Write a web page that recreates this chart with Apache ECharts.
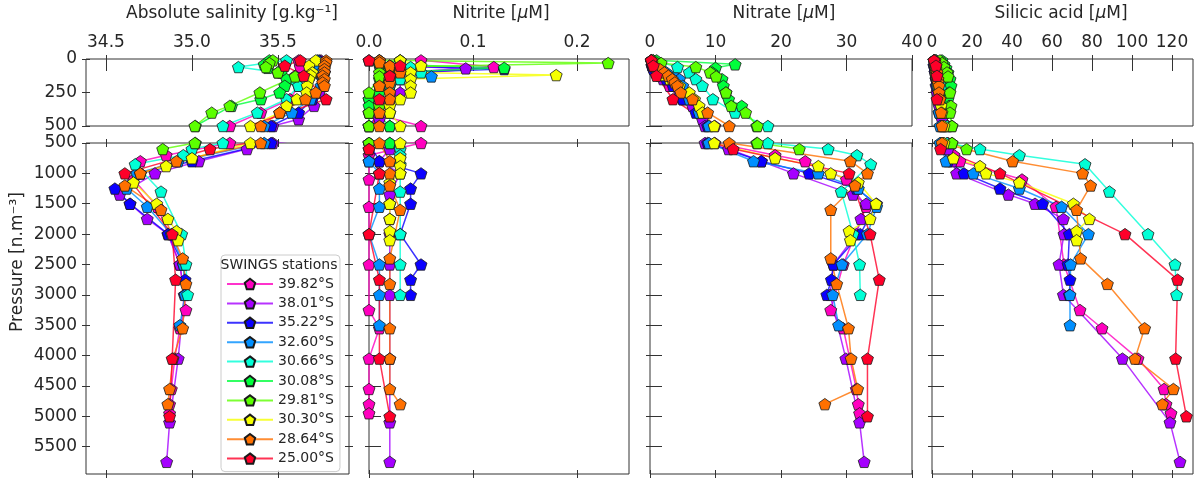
<!DOCTYPE html>
<html>
<head>
<meta charset="utf-8">
<script src="https://cdn.jsdelivr.net/npm/echarts@6/dist/echarts.min.js"></script>
<style>
  html, body { margin: 0; padding: 0; background: #fff; }
  #chart { width: 1195px; height: 479px; }
</style>
</head>
<body>
<div id="chart"></div>
<script>
// SWINGS hydrographic stations: profiles of absolute salinity, nitrite, nitrate, silicic acid vs pressure
const stations = ['39.82°S', '38.01°S', '35.22°S', '32.60°S', '30.66°S', '30.08°S', '29.81°S', '30.30°S', '28.64°S', '25.00°S'];
const stationColors = ['#ff00bf', '#a500ff', '#0b00ff', '#008fff', '#00ffd6', '#00ff3c', '#5cff00', '#f5ff00', '#ff7000', '#ff0029'];

// 39.82°S
const p3982   = [10, 60, 125, 200, 300, 400, 500, 700, 800, 1100, 1550, 2500, 3250, 3550, 4050, 4550, 4800, 4950];
const sa3982  = [35.62, 35.63, 35.60, 35.62, 35.57, 35.40, 35.22, 34.85, 34.70, 34.66, 34.80, 34.93, 34.965, 34.93, 34.90, 34.88, 34.87, 34.87];
const no2_3982 = [0.05, 0.12, 0.02, 0.01, 0.0, 0.0, 0.05, 0.0, 0.0, 0.0, 0.0, 0.0, 0.0, 0.01, 0.0, 0.0, 0.0, 0.0];
const no3_3982 = [0.3, 0.4, 1.5, 3.0, 5.0, 8.0, 9.9, 19.1, 23.7, 30.0, 33.0, 29.5, 27.6, 29.5, 30.5, 31.5, 31.8, 32.0];
const si3982  = [2, 2.5, 3, 3.5, 4, 6, 8, 11, 14, 45, 62, 66, 74, 85, 103, 116, 117, 119.5];

// 38.01°S
const p3801   = [10, 50, 70, 100, 150, 250, 350, 450, 500, 600, 800, 1000, 1350, 1500, 1750, 2000, 2500, 3000, 4050, 5100, 5750];
const sa3801  = [35.75, 35.76, 35.76, 35.77, 35.76, 35.74, 35.71, 35.62, 35.47, 35.32, 35.04, 34.785, 34.58, 34.64, 34.74, 34.86, 34.93, 34.955, 34.92, 34.87, 34.853];
const no2_3801 = [0.01, 0.02, 0.093, 0.03, 0.03, 0.03, 0.01, 0.01, 0.0, 0.02, 0.01, 0.03, 0.02, 0.02, 0.02, 0.02, 0.02, 0.02, 0.02, 0.02, 0.02];
const no3_3801 = [0.2, 0.3, 0.5, 0.8, 2.0, 4.5, 6.5, 8.0, 8.4, 12.0, 17.0, 21.9, 31.0, 33.0, 32.2, 31.5, 28.0, 27.5, 29.9, 32.0, 32.7];
const si3801  = [1, 1, 1.5, 1.5, 2, 2.5, 3.5, 5, 5.5, 8, 10, 12.3, 38.2, 51.5, 65.7, 66, 63.5, 65.7, 95.2, 119, 124];

// 35.22°S
const p3522   = [10, 50, 75, 100, 150, 200, 300, 400, 500, 800, 1000, 1250, 1500, 2000, 2500, 2750, 3000];
const sa3522  = [35.74, 35.75, 35.76, 35.77, 35.76, 35.76, 35.70, 35.62, 35.46, 35.00, 34.70, 34.552, 34.64, 34.862, 34.95, 34.96, 34.96];
const no2_3522 = [0.01, 0.02, 0.13, 0.03, 0.02, 0.02, 0.02, 0.01, 0.0, 0.01, 0.05, 0.04, 0.04, 0.03, 0.05, 0.04, 0.04];
const no3_3522 = [0.2, 0.3, 0.5, 1.0, 2.5, 3.5, 5.0, 7.0, 8.8, 17.0, 24.3, 31.5, 34.6, 32.1, 28.0, 27.7, 27.0];
const si3522  = [1, 1, 1.5, 1.5, 2, 2, 3, 3.5, 4.5, 8, 16, 34, 55.3, 68.7, 68, 69, 68.7];

// 32.60°S
const p3260   = [10, 50, 100, 130, 150, 200, 300, 400, 500, 800, 1000, 1250, 1550, 2000, 2500, 3000, 3500];
const sa3260  = [35.73, 35.74, 35.75, 35.76, 35.76, 35.75, 35.69, 35.58, 35.42, 34.92, 34.68, 34.62, 34.74, 34.88, 34.95, 34.96, 34.93];
const no2_3260 = [0.0, 0.01, 0.02, 0.06, 0.02, 0.01, 0.01, 0.0, 0.0, 0.0, 0.01, 0.01, 0.01, 0.0, 0.01, 0.01, 0.01];
const no3_3260 = [0.2, 0.5, 2.5, 3.8, 4.5, 5.0, 6.0, 7.5, 9.0, 15.8, 25.7, 31.8, 34.6, 33.2, 29.3, 27.9, 28.8];
const si3260  = [1, 1.5, 2, 2, 2.5, 2.5, 3, 3.5, 4, 7, 20.7, 43.7, 64.8, 78.2, 69.3, 69, 69];

// 30.66°S
const p3066   = [10, 60, 100, 150, 200, 300, 400, 500, 600, 700, 850, 1300, 2000, 2500, 3000];
const sa3066  = [35.55, 35.27, 35.50, 35.60, 35.62, 35.55, 35.38, 35.18, 35.00, 34.95, 34.67, 34.82, 34.94, 34.965, 34.975];
const no2_3066 = [0.03, 0.04, 0.05, 0.03, 0.02, 0.02, 0.02, 0.02, 0.03, 0.03, 0.03, 0.03, 0.03, 0.03, 0.03];
const no3_3066 = [0.5, 4.2, 6.0, 7.0, 8.0, 9.6, 13.0, 18.0, 27.2, 31.6, 33.7, 29.2, 31.0, 32.0, 32.1];
const si3066  = [2, 3, 4, 4.5, 5, 6, 6.5, 7.5, 24, 43.7, 76.5, 88.7, 108, 121.5, 122.3];

// 30.08°S
const p3008   = [10, 40, 66, 100, 150, 200, 250, 300, 350, 500];
const sa3008  = [35.45, 35.42, 35.44, 35.52, 35.55, 35.54, 35.51, 35.40, 35.23, 35.02];
const no2_3008 = [0.03, 0.01, 0.13, 0.02, 0.01, 0.01, 0.01, 0.0, 0.0, 0.02];
const no3_3008 = [1.0, 13.0, 10.0, 9.5, 11.0, 11.2, 11.6, 12.0, 14.0, 16.3];
const si3008  = [5, 6, 7, 8, 9, 9.5, 8.5, 8, 8.5, 10];

// 29.81°S
const p2981   = [10, 30, 60, 100, 130, 250, 350, 400, 500, 600];
const sa2981  = [35.47, 35.45, 35.43, 35.50, 35.60, 35.395, 35.22, 35.115, 35.017, 34.83];
const no2_2981 = [0.01, 0.23, 0.02, 0.01, 0.01, 0.0, 0.01, 0.0, 0.0, 0.0];
const no3_2981 = [0.5, 1.7, 7.0, 9.2, 10.1, 11.6, 12.4, 14.6, 16.4, 22.8];
const si2981  = [4, 5, 6, 7.5, 8, 9, 9.5, 9, 10, 17.3];

// 30.30°S
const p3030   = [10, 50, 100, 120, 150, 200, 250, 300, 350, 400, 500, 750, 880, 1000, 1150, 1500, 1750, 1950, 2100];
const sa3030  = [35.72, 35.68, 35.70, 35.69, 35.68, 35.67, 35.667, 35.61, 35.55, 35.51, 35.34, 35.00, 34.85, 34.70, 34.66, 34.795, 34.86, 34.91, 34.92];
const no2_3030 = [0.03, 0.05, 0.04, 0.18, 0.04, 0.04, 0.04, 0.03, 0.02, 0.02, 0.03, 0.03, 0.03, 0.03, 0.02, 0.02, 0.02, 0.02, 0.02];
const no3_3030 = [0.2, 0.5, 1.2, 2.0, 3.0, 4.5, 6.0, 6.8, 7.5, 8.0, 9.8, 19.1, 25.7, 27.6, 31.8, 34.5, 33.6, 30.4, 30.6];
const si3030  = [1, 1.5, 2, 2, 2.5, 3, 3.5, 4, 4.5, 5, 6, 10.7, 24, 27, 43.7, 70.7, 78.7, 72.3, 72.3];

// 28.64°S
const p2864   = [10, 25, 50, 75, 100, 125, 150, 175, 200, 250, 300, 400, 500, 800, 1000, 1200, 1600, 2400, 2820, 3550, 4050, 4550, 4800];
const sa2864  = [35.78, 35.78, 35.77, 35.77, 35.77, 35.76, 35.77, 35.76, 35.77, 35.72, 35.66, 35.51, 35.40, 34.91, 34.70, 34.61, 34.82, 34.946, 34.965, 34.946, 34.89, 34.87, 34.86];
const no2_2864 = [0.01, 0.01, 0.02, 0.03, 0.03, 0.02, 0.02, 0.02, 0.01, 0.02, 0.02, 0.01, 0.01, 0.02, 0.02, 0.02, 0.03, 0.02, 0.02, 0.02, 0.02, 0.02, 0.03];
const no3_2864 = [0.2, 0.3, 0.6, 1.5, 2.2, 2.8, 3.4, 3.8, 4.2, 4.7, 6.5, 8.8, 12.1, 30.6, 33.2, 31.3, 27.6, 27.6, 28.5, 30.3, 30.7, 31.7, 26.7];
const si2864  = [1.5, 1.5, 2, 2, 2.5, 2.5, 3, 3, 3.5, 3.5, 4, 4.5, 5, 40.3, 75.3, 79.3, 72.3, 74.3, 87.7, 106.3, 101.5, 120.7, 115.2];

// 25.00°S
const p2500   = [10, 50, 125, 300, 600, 1000, 2000, 2750, 4050, 5000];
const sa2500  = [35.63, 35.54, 35.65, 35.78, 35.105, 34.61, 34.885, 34.905, 34.885, 34.87];
const no2_2500 = [0.0, 0.03, 0.02, 0.01, 0.0, 0.01, 0.0, 0.01, 0.01, 0.02];
const no3_2500 = [0.2, 0.5, 1.0, 3.5, 12.7, 30.4, 33.6, 35.0, 33.2, 33.2];
const si2500  = [1, 2, 2.5, 2.5, 4.3, 34, 96.5, 122.8, 121.8, 127.2];

// axis ticks
const salTicks = [34.5, 35.0, 35.5];
const no2Ticks = [0.0, 0.1, 0.2];
const no3Ticks = [0, 10, 20, 30, 40];
const siTicks = [0, 20, 40, 60, 80, 100, 120];
const shallowTicks = [0, 250, 500];
const deepTicks = [500, 1000, 1500, 2000, 2500, 3000, 3500, 4000, 4500, 5000, 5500];

// per-station grouping (pressure + the four variables)
const profiles = [
  [p3982, sa3982, no2_3982, no3_3982, si3982],
  [p3801, sa3801, no2_3801, no3_3801, si3801],
  [p3522, sa3522, no2_3522, no3_3522, si3522],
  [p3260, sa3260, no2_3260, no3_3260, si3260],
  [p3066, sa3066, no2_3066, no3_3066, si3066],
  [p3008, sa3008, no2_3008, no3_3008, si3008],
  [p2981, sa2981, no2_2981, no3_2981, si2981],
  [p3030, sa3030, no2_3030, no3_3030, si3030],
  [p2864, sa2864, no2_2864, no3_2864, si2864],
  [p2500, sa2500, no2_2500, no3_2500, si2500]
];

const FONT = 'DejaVu Sans';
const INK = '#262626';
const pentagon = 'path://M0,-1L0.9511,-0.309L0.5878,0.809L-0.5878,0.809L-0.9511,-0.309Z';

const colLayout = [
  { left: 86, width: 263 },
  { left: 369, width: 260 },
  { left: 650, width: 262 },
  { left: 932, width: 261 }
];
const rowLayout = [
  { top: 59, height: 67 },
  { top: 143, height: 331 }
];
const xRange = [[34.384, 35.913], [0, 0.25], [0, 40], [0, 130.5]];
const xTickSets = [salTicks, no2Ticks, no3Ticks, siTicks];
const xFmt = [v => v.toFixed(1), v => v.toFixed(1), v => String(v), v => String(v)];
const yRange = [[0, 500], [500, 5950]];
const yTickSets = [shallowTicks, deepTicks];

const grids = [], xAxes = [], yAxes = [], series = [];

for (let r = 0; r < 2; r++) {
  for (let c = 0; c < 4; c++) {
    const g = r * 4 + c;
    grids.push({
      left: colLayout[c].left, width: colLayout[c].width,
      top: rowLayout[r].top, height: rowLayout[r].height,
      show: true, borderColor: '#333', borderWidth: 1, backgroundColor: 'transparent',
      containLabel: false, outerBoundsMode: 'none'
    });
    ['top', 'bottom'].forEach(pos => {
      xAxes.push({
        type: 'value', gridIndex: g, position: pos,
        min: xRange[c][0], max: xRange[c][1], offset: -4,
        axisLine: { show: false },
        splitLine: { show: false },
        axisTick: { show: true, length: 8, customValues: xTickSets[c], lineStyle: { color: '#333', width: 1 } },
        axisLabel: {
          show: pos === 'top' && r === 0, customValues: xTickSets[c], formatter: xFmt[c],
          margin: 12, color: INK, fontSize: 17, fontFamily: FONT
        }
      });
    });
    ['left', 'right'].forEach(pos => {
      yAxes.push({
        type: 'value', gridIndex: g, position: pos, inverse: true,
        min: yRange[r][0], max: yRange[r][1], offset: -4,
        axisLine: { show: false },
        splitLine: { show: false },
        axisTick: { show: true, length: 8, customValues: yTickSets[r], lineStyle: { color: '#333', width: 1 } },
        axisLabel: {
          show: pos === 'left' && c === 0, customValues: yTickSets[r], formatter: v => String(v),
          margin: 13, color: INK, fontSize: 17, fontFamily: FONT
        }
      });
    });
  }
}

stations.forEach((name, s) => {
  const prof = profiles[s];
  const pres = prof[0];
  for (let c = 0; c < 4; c++) {
    const vals = prof[c + 1];
    const pts = [];
    pres.forEach((p, i) => { if (vals[i] != null) pts.push([vals[i], p]); });
    for (let r = 0; r < 2; r++) {
      const g = r * 4 + c;
      series.push({
        type: 'line', name: name,
        xAxisIndex: g * 2, yAxisIndex: g * 2,
        data: pts,
        symbol: pentagon, symbolSize: 12, symbolKeepAspect: true, showAllSymbol: true,
        clip: true,
        lineStyle: { color: stationColors[s], width: 1.5, opacity: 0.8 },
        itemStyle: { color: stationColors[s], borderColor: '#1a1a1a', borderWidth: 0.8 },
        emphasis: { disabled: true },
        animation: false
      });
    }
  }
});

const richMu = { a: { fontSize: 17, fontFamily: FONT, fill: INK }, m: { fontSize: 17, fontFamily: FONT, fontStyle: 'italic', fill: INK } };
const titleStyle = { fontSize: 17, fontFamily: FONT, fill: INK, textAlign: 'center', textVerticalAlign: 'middle' };
const graphics = [
  { type: 'text', x: 232, y: 14, style: Object.assign({ text: 'Absolute salinity [g.kg⁻¹]' }, titleStyle) },
  { type: 'text', x: 501, y: 14, style: Object.assign({ text: '{a|Nitrite [}{m|μ}{a|M]}', rich: richMu }, titleStyle) },
  { type: 'text', x: 784, y: 14, style: Object.assign({ text: '{a|Nitrate [}{m|μ}{a|M]}', rich: richMu }, titleStyle) },
  { type: 'text', x: 1061, y: 14, style: Object.assign({ text: '{a|Silicic acid [}{m|μ}{a|M]}', rich: richMu }, titleStyle) },
  { type: 'text', x: 18, y: 262, rotation: Math.PI / 2, style: Object.assign({ text: 'Pressure [n.m⁻³]' }, titleStyle) },
  { type: 'text', x: 279, y: 265, z: 100, style: { text: 'SWINGS stations', fontSize: 14, fontFamily: FONT, fill: INK, textAlign: 'center', textVerticalAlign: 'middle' } }
];

const chart = echarts.init(document.getElementById('chart'), null, { renderer: 'canvas' });
chart.setOption({
  backgroundColor: '#fff',
  animation: false,
  grid: grids,
  xAxis: xAxes,
  yAxis: yAxes,
  series: series,
  legend: {
    type: 'plain', data: stations, orient: 'vertical', left: 221, top: 255, height: 400,
    padding: [22, 6, 6, 5], itemWidth: 46, itemHeight: 13, itemGap: 5.4,
    backgroundColor: 'rgba(255,255,255,0.85)', borderColor: '#cccccc', borderWidth: 1, borderRadius: 4,
    textStyle: { fontSize: 14, color: INK, fontFamily: FONT, lineHeight: 13 },
    selectedMode: false, z: 50
  },
  graphic: graphics
});
</script>
</body>
</html>
